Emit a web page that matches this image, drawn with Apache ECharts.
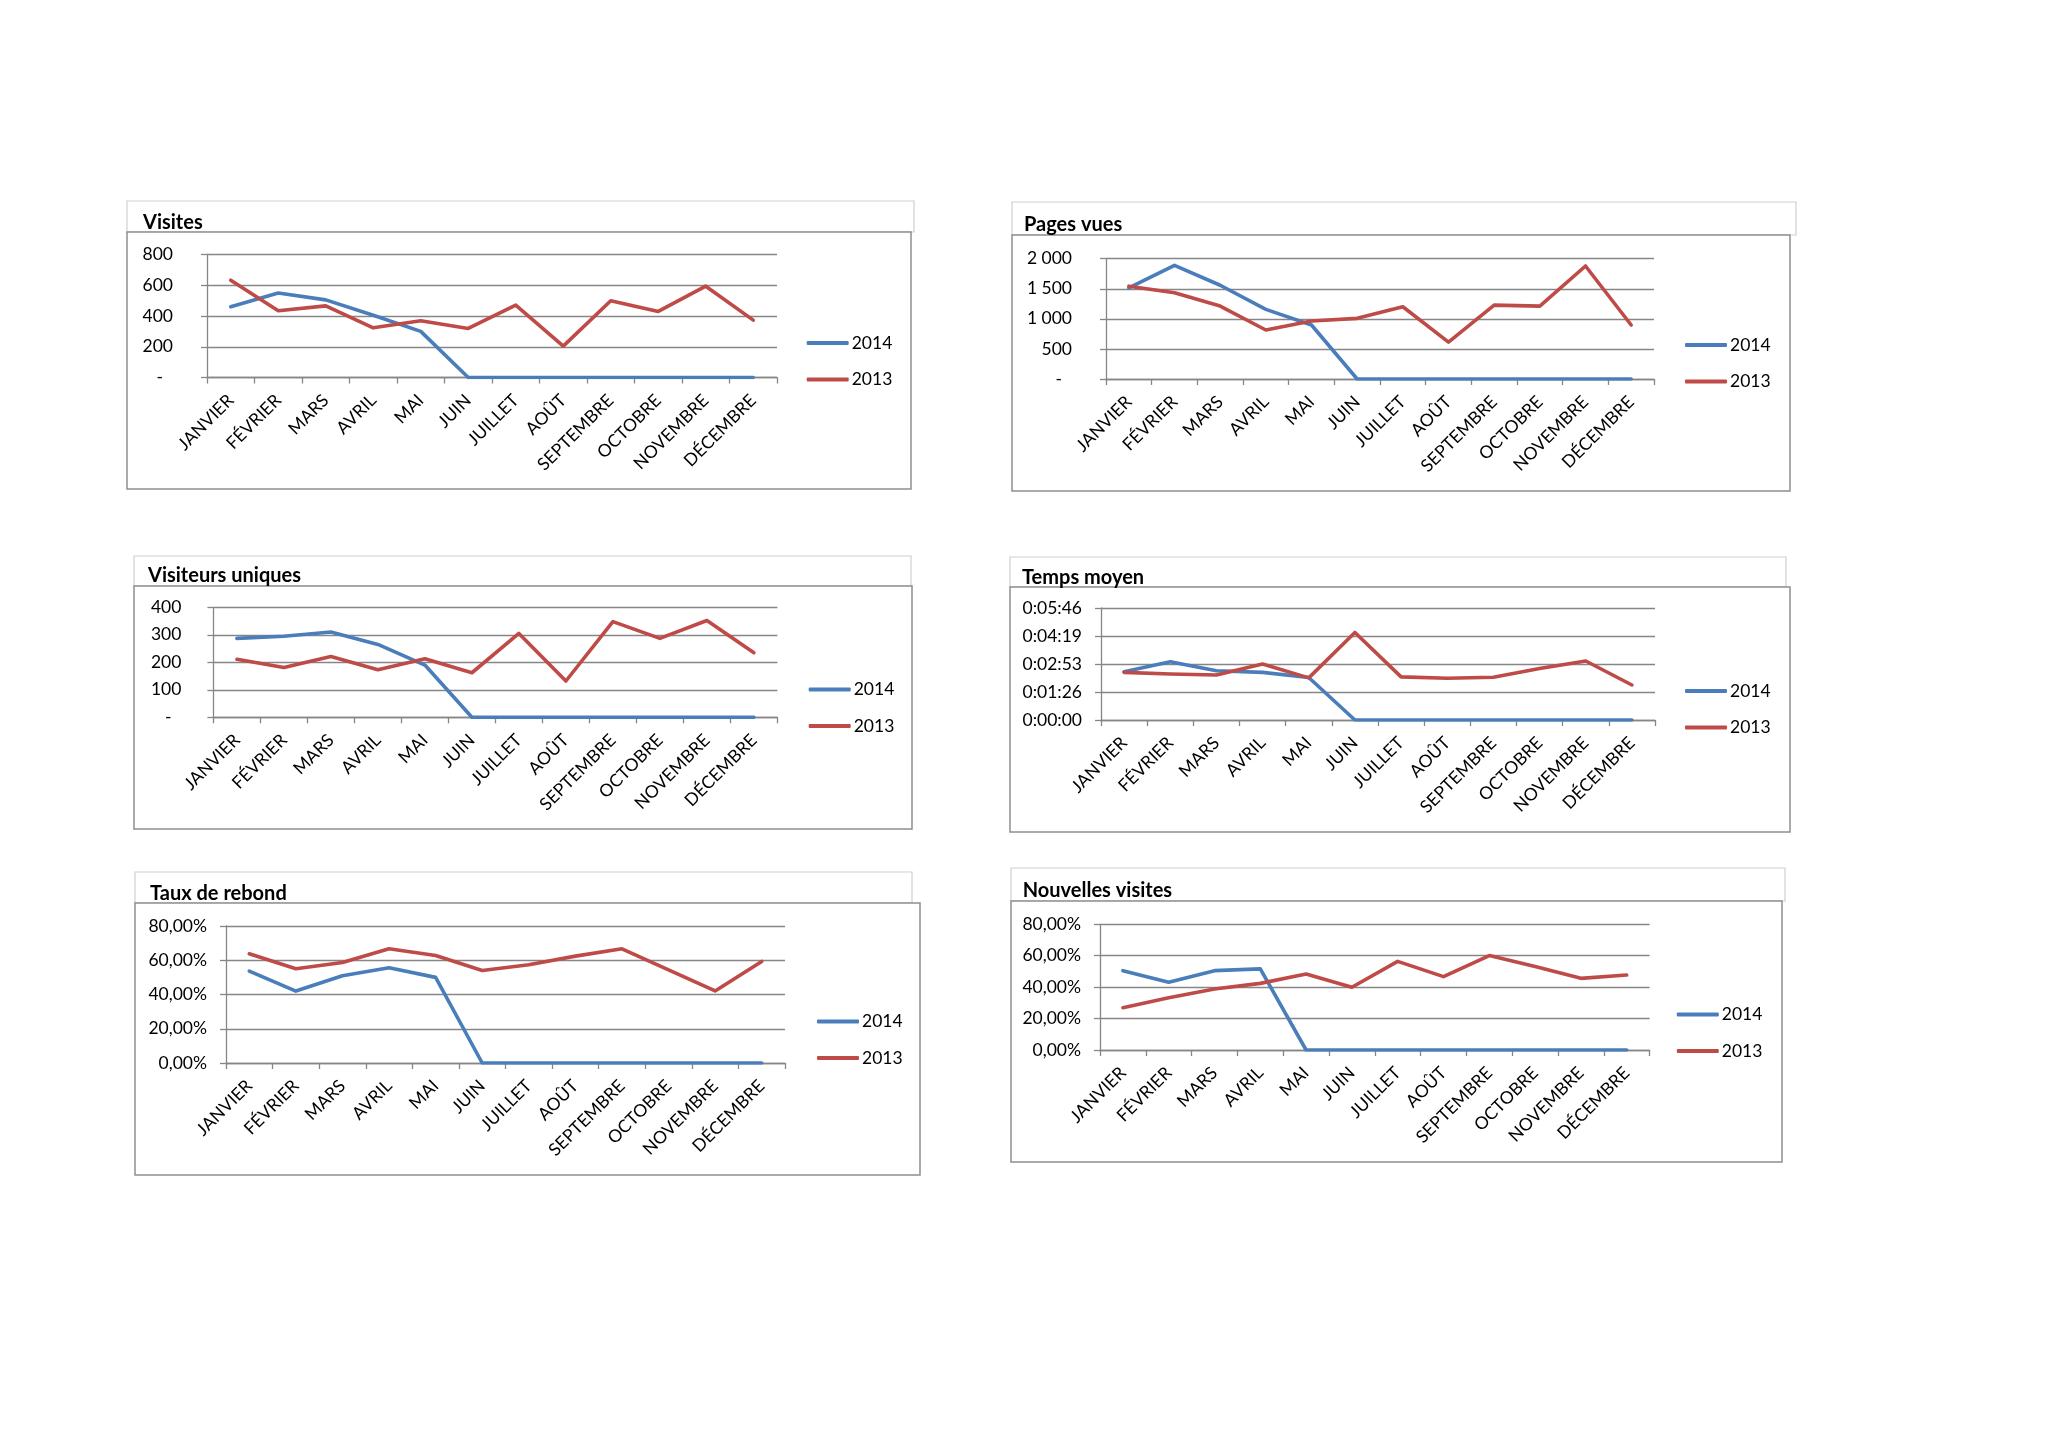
<!DOCTYPE html>
<html>
<head>
<meta charset="utf-8">
<script src="https://cdn.jsdelivr.net/npm/echarts@6/dist/echarts.min.js"></script>
<style>
html,body{margin:0;padding:0;background:#fff;}
#c{width:2048px;height:1447px;}
</style>
</head>
<body>
<div id="c"></div>
<script>
// ---- data ----
const months = ['JANVIER','FÉVRIER','MARS','AVRIL','MAI','JUIN','JUILLET','AOÛT','SEPTEMBRE','OCTOBRE','NOVEMBRE','DÉCEMBRE'];
const seriesNames = ['2014','2013'];

const visites2014 = [460, 550, 505, 405, 300, 0, 0, 0, 0, 0, 0, 0];
const visites2013 = [633, 434, 466, 323, 369, 319, 471, 204, 499, 430, 594, 373];
const visitesTicks = ['-', '200', '400', '600', '800'];

const pages2014 = [1515, 1890, 1559, 1157, 898, 0, 0, 0, 0, 0, 0, 0];
const pages2013 = [1543, 1433, 1212, 815, 964, 1008, 1201, 612, 1229, 1212, 1879, 898];
const pagesTicks = ['-', '500', '1 000', '1 500', '2 000'];

const uniques2014 = [287, 295, 310, 265, 190, 0, 0, 0, 0, 0, 0, 0];
const uniques2013 = [211, 181, 221, 173, 213, 162, 305, 132, 348, 287, 352, 235];
const uniquesTicks = ['-', '100', '200', '300', '400'];

// seconds
const temps2014 = [149, 180, 152, 147, 131, 0, 0, 0, 0, 0, 0, 0];
const temps2013 = [147, 142, 139, 173, 130, 270, 133, 129, 132, 159, 182, 108];
const tempsTicks = ['0:00:00', '0:01:26', '0:02:53', '0:04:19', '0:05:46'];

// percent
const rebond2014 = [53.7, 42.0, 50.9, 55.6, 50.0, 0, 0, 0, 0, 0, 0, 0];
const rebond2013 = [63.8, 55.0, 58.7, 66.7, 62.8, 54.0, 57.4, 62.4, 66.7, 54.4, 42.1, 59.3];
const rebondTicks = ['0,00%', '20,00%', '40,00%', '60,00%', '80,00%'];

const nouvelles2014 = [50.5, 43.1, 50.5, 51.6, 0, 0, 0, 0, 0, 0, 0, 0];
const nouvelles2013 = [26.9, 33.3, 38.8, 42.4, 48.4, 39.9, 56.4, 46.7, 60.1, 53.1, 45.6, 47.7];
const nouvellesTicks = ['0,00%', '20,00%', '40,00%', '60,00%', '80,00%'];

// ---- layout ----
const FONT = 'Lato, "Open Sans", sans-serif';
const FS = 17.5;
const BLUE = '#4A7EBB';
const RED = '#BE4B48';
const GRID = '#868686';

const panels = [
  {title:'Visites', tx:143, ty:222.5, tbox:[127,201,914,232], cbox:[127,232,911,489],
   grid:{left:207, top:254.5, width:570, height:123}, s14:visites2014, s13:visites2013,
   max:800, interval:200, ticks:visitesTicks, margin:34, leg:{x:806.7, y:342.7}},
  {title:'Pages vues', tx:1024, ty:224.5, tbox:[1012,202,1796,235], cbox:[1012,235,1790,491],
   grid:{left:1106, top:258.7, width:548, height:120.3}, s14:pages2014, s13:pages2013,
   max:2000, interval:500, ticks:pagesTicks, margin:34, leg:{x:1685, y:344.7}},
  {title:'Visiteurs uniques', tx:148, ty:576, tbox:[134,556,911,586], cbox:[134,586,912,829],
   grid:{left:213.4, top:607.3, width:564, height:110}, s14:uniques2014, s13:uniques2013,
   max:400, interval:100, ticks:uniquesTicks, margin:32, leg:{x:808.7, y:689.3}},
  {title:'Temps moyen', tx:1022, ty:577.2, tbox:[1010,557,1786,587], cbox:[1010,587,1790,832],
   grid:{left:1101, top:608, width:554, height:112}, s14:temps2014, s13:temps2013,
   max:345.6, interval:86.4, ticks:tempsTicks, margin:19, leg:{x:1685, y:690.7}},
  {title:'Taux de rebond', tx:150, ty:893.5, tbox:[135,872,912,903], cbox:[135,903,920,1175],
   grid:{left:226, top:926, width:559, height:137}, s14:rebond2014, s13:rebond2013,
   max:80, interval:20, ticks:rebondTicks, margin:19, leg:{x:817, y:1021.3}},
  {title:'Nouvelles visites', tx:1022.7, ty:890.8, tbox:[1011,868,1785,901], cbox:[1011,901,1782,1162],
   grid:{left:1100, top:924.3, width:549.6, height:125.7}, s14:nouvelles2014, s13:nouvelles2013,
   max:80, interval:20, ticks:nouvellesTicks, margin:19, leg:{x:1676.8, y:1014.3}}
];

const grids = [], xAxes = [], yAxes = [], series = [], legends = [], graphics = [];

panels.forEach((p, k) => {
  graphics.push({type:'rect', silent:true, z:-10,
    shape:{x:p.tbox[0], y:p.tbox[1], width:p.tbox[2]-p.tbox[0], height:p.tbox[3]-p.tbox[1]},
    style:{fill:'#fff', stroke:'#CFCFCF', lineWidth:1.2}});
  graphics.push({type:'rect', silent:true, z:-9,
    shape:{x:p.cbox[0], y:p.cbox[1], width:p.cbox[2]-p.cbox[0], height:p.cbox[3]-p.cbox[1]},
    style:{fill:'#fff', stroke:'#8F8F8F', lineWidth:1.5}});
  graphics.push({type:'text', silent:true, z:10, x:p.tx, y:p.ty,
    style:{text:p.title, font:'bold 20px ' + FONT, fill:'#000', verticalAlign:'middle', align:'left'}});

  grids.push(Object.assign({containLabel:false}, p.grid));
  xAxes.push({
    type:'category', gridIndex:k, data:months, boundaryGap:true,
    axisLine:{show:true, lineStyle:{color:GRID, width:1.3}},
    axisTick:{show:true, length:6, alignWithLabel:false, lineStyle:{color:GRID, width:1.3}},
    axisLabel:{interval:0, rotate:45, margin:20, fontSize:FS, fontFamily:FONT, color:'#000'},
    splitLine:{show:false}
  });
  const ticks = p.ticks;
  yAxes.push({
    type:'value', gridIndex:k, min:0, max:p.max, interval:p.interval,
    axisLine:{show:true, lineStyle:{color:GRID, width:1.3}},
    axisTick:{show:true, length:6, lineStyle:{color:GRID, width:1.3}},
    splitLine:{show:true, lineStyle:{color:GRID, width:1.3}},
    axisLabel:{margin:p.margin, fontSize:FS, fontFamily:FONT, color:'#000',
      formatter:(v, i) => { const t = ticks[Math.round(v / p.interval)]; return t === '-' ? '{d|-}' : t; },
      rich:{d:{padding:[0,10,0,0], fontSize:FS, fontFamily:FONT, color:'#000'}}}
  });
  [[p.s14, BLUE, seriesNames[0]], [p.s13, RED, seriesNames[1]]].forEach(([d, col, nm]) => {
    series.push({
      type:'line', name:nm, xAxisIndex:k, yAxisIndex:k, data:d,
      showSymbol:false, symbol:'none', smooth:false, animation:false,
      lineStyle:{color:col, width:3.6, join:'round', cap:'round'},
      itemStyle:{color:col}
    });
  });
  legends.push({
    orient:'vertical', left:p.leg.x, top:p.leg.y - FS / 2, itemGap:36 - FS, padding:0,
    itemWidth:42, itemHeight:4, icon:'roundRect', data:seriesNames,
    textStyle:{fontSize:FS, fontFamily:FONT, color:'#000', padding:[0,0,0,-2]},
    selectedMode:false
  });
});

const chart = echarts.init(document.getElementById('c'), null, {renderer:'canvas'});
chart.setOption({
  backgroundColor:'#fff',
  animation:false,
  grid:grids, xAxis:xAxes, yAxis:yAxes, series:series, legend:legends,
  graphic:{elements:graphics}
});
</script>
</body>
</html>
